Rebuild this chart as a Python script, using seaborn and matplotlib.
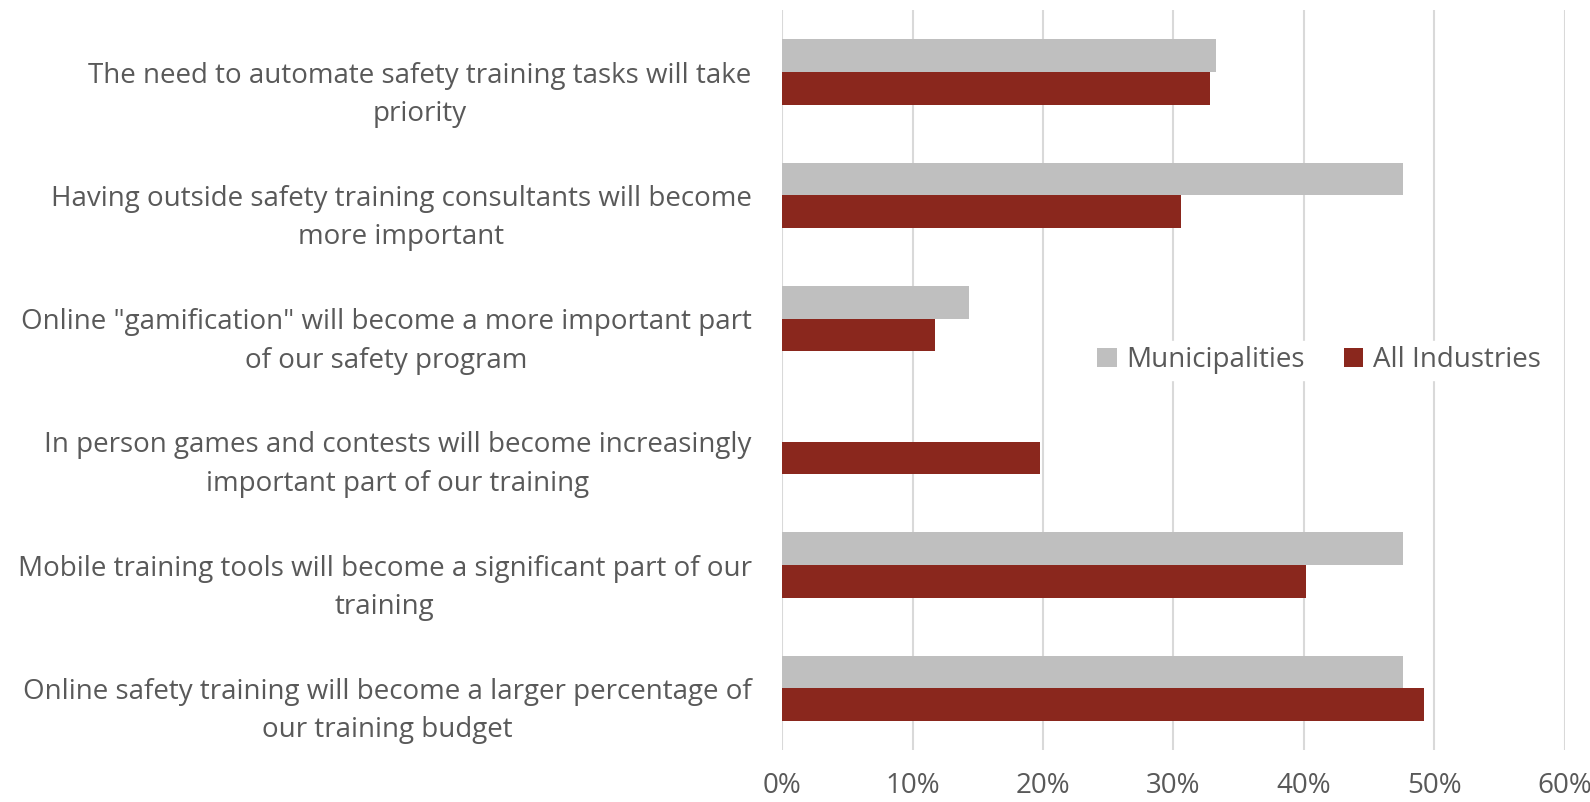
import pandas as pd
import matplotlib.pyplot as plt
import matplotlib.ticker as mtick
import matplotlib.transforms as mtrans
import seaborn as sns

categories = [
    "The need to automate safety training tasks will take\npriority",
    "Having outside safety training consultants will become\nmore important",
    "Online \"gamification\" will become a more important part\nof our safety program",
    "In person games and contests will become increasingly\nimportant part of our training",
    "Mobile training tools will become a significant part of our\ntraining",
    "Online safety training will become a larger percentage of\nour training budget",
]
municipalities = [0.333, 0.476, 0.143, 0.0, 0.476, 0.476]
all_industries = [0.328, 0.306, 0.117, 0.198, 0.402, 0.492]
series = ["Municipalities", "All Industries"]
colors = ["#BFBFBF", "#8A271D"]

df = pd.DataFrame({
    "question": categories * 2,
    "share": municipalities + all_industries,
    "group": [series[0]] * len(categories) + [series[1]] * len(categories),
})

sns.set_theme(style="white")
plt.rcParams['font.family'] = ['Open Sans', 'DejaVu Sans']
text_color = "#595959"

fig = plt.figure(figsize=(15.9, 8.02), dpi=100)
ax = fig.add_axes([0.492, 0.065, 0.492, 0.922])

sns.barplot(data=df, y="question", x="share", hue="group", hue_order=series,
            palette=colors, orient="h", width=0.53, saturation=1,
            linewidth=0, ax=ax)

ax.set_xlim(0, 0.6)
ax.xaxis.set_major_locator(mtick.MultipleLocator(0.1))
ax.xaxis.set_major_formatter(mtick.PercentFormatter(1.0, decimals=0))
ax.grid(axis="x", color="#D9D9D9", linewidth=1.5)
ax.set_axisbelow(True)
for s in ax.spines.values():
    s.set_visible(False)
ax.set_xlabel("")
ax.set_ylabel("")
ax.tick_params(axis="x", labelsize=20, labelcolor=text_color, pad=16, length=0)
ax.tick_params(axis="y", labelsize=20, labelcolor=text_color, pad=22, length=0)
shift = mtrans.ScaledTranslation(0, -14 / 100, fig.dpi_scale_trans)
for lbl in ax.get_yticklabels():
    lbl.set_multialignment("center")
    lbl.set_linespacing(1.5)
    lbl.set_transform(lbl.get_transform() + shift)

ax.legend(loc="center", bbox_to_anchor=(0.686, 0.527), ncol=2, frameon=True,
          facecolor="white", edgecolor="white", framealpha=1, fontsize=20,
          labelcolor=text_color, handlelength=0.7, handleheight=0.7,
          handletextpad=0.35, columnspacing=1.4, borderpad=0.2)

fig.savefig("out.png", dpi=100, facecolor="white")
